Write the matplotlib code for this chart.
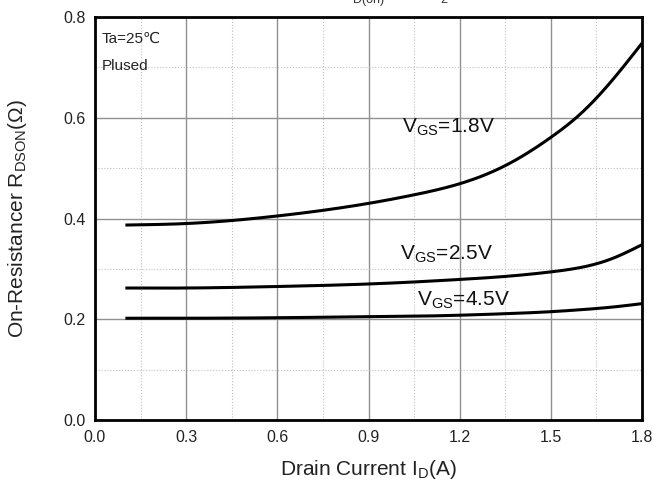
import matplotlib
matplotlib.use("Agg")
import matplotlib.pyplot as plt
import numpy as np
from matplotlib.ticker import MultipleLocator

plt.rcParams['font.family'] = ['Liberation Sans', 'DejaVu Sans']
plt.rcParams['mathtext.fontset'] = 'custom'
plt.rcParams['mathtext.rm'] = 'Liberation Sans'

# Data
current = [0.1, 0.3, 0.6, 0.9, 1.05, 1.2, 1.35, 1.5, 1.6, 1.7, 1.8]
r_vgs18 = [0.387, 0.390, 0.405, 0.430, 0.447, 0.469, 0.505, 0.561, 0.609, 0.673, 0.748]
r_vgs25 = [0.262, 0.262, 0.265, 0.270, 0.274, 0.279, 0.285, 0.294, 0.303, 0.320, 0.348]
r_vgs45 = [0.202, 0.202, 0.203, 0.205, 0.206, 0.208, 0.211, 0.215, 0.219, 0.224, 0.231]
xticks = [0.0, 0.3, 0.6, 0.9, 1.2, 1.5, 1.8]
yticks = [0.0, 0.2, 0.4, 0.6, 0.8]


def cspline(x, y, xs):
    """Natural cubic spline through the data points (drawing only)."""
    x = np.asarray(x, float); y = np.asarray(y, float)
    n = len(x); h = np.diff(x)
    A = np.zeros((n, n)); b = np.zeros(n)
    A[0, 0] = A[-1, -1] = 1
    for i in range(1, n - 1):
        A[i, i - 1] = h[i - 1]; A[i, i] = 2 * (h[i - 1] + h[i]); A[i, i + 1] = h[i]
        b[i] = 3 * ((y[i + 1] - y[i]) / h[i] - (y[i] - y[i - 1]) / h[i - 1])
    c = np.linalg.solve(A, b)
    bb = (y[1:] - y[:-1]) / h - h * (2 * c[:-1] + c[1:]) / 3
    d = (c[1:] - c[:-1]) / (3 * h)
    idx = np.clip(np.searchsorted(x, xs) - 1, 0, n - 2)
    t = xs - x[idx]
    return y[idx] + bb[idx] * t + c[idx] * t**2 + d[idx] * t**3


fig = plt.figure(figsize=(6.54, 4.86), dpi=100)
ax = fig.add_axes([95/654, 1 - 420/486, 547/654, 403/486])

xs = np.linspace(current[0], current[-1], 300)
for r in (r_vgs18, r_vgs25, r_vgs45):
    ax.plot(xs, cspline(current, r, xs), color='black', lw=2.2, solid_capstyle='butt')

ax.set_xlim(0, 1.8)
ax.set_ylim(0, 0.8)
ax.set_xticks(xticks)
ax.set_yticks(yticks)
ax.set_xticklabels([f"{t:.1f}" for t in xticks])
ax.set_yticklabels([f"{t:.1f}" for t in yticks])
ax.xaxis.set_minor_locator(MultipleLocator(0.15))
ax.yaxis.set_minor_locator(MultipleLocator(0.1))
ax.grid(which='major', color='#909090', lw=1.0)
ax.grid(which='minor', color='#c0c0c0', lw=0.8, ls=':')
ax.set_axisbelow(True)
ax.tick_params(which='both', length=0, labelsize=11.5, colors='#222222')
ax.tick_params(axis='y', pad=7)
ax.tick_params(axis='x', pad=7)
for s in ax.spines.values():
    s.set_linewidth(2.0)
    s.set_color('black')

ax.set_xlabel('Drain Current I$_{\\mathregular{D}}$(A)', fontsize=15, color='#222222', va='center')
ax.set_ylabel('On-Resistancer R$_{\\mathregular{DSON}}$($\\Omega$)', fontsize=15, color='#222222', va='center')
ax.xaxis.set_label_coords(0.5, -0.124)
ax.yaxis.set_label_coords(-0.141, 0.5)

ax.text(0.023, 0.748, 'Ta=25℃', fontsize=11, color='#222222', va='baseline')
ax.text(0.023, 0.695, 'Plused', fontsize=11, color='#222222', va='baseline')

ax.text(1.01, 0.570, 'V$_{\\mathregular{GS}}$=1.8V', fontsize=15, va='baseline', color='#111111')
ax.text(1.004, 0.318, 'V$_{\\mathregular{GS}}$=2.5V', fontsize=15, va='baseline', color='#111111')
ax.text(1.058, 0.228, 'V$_{\\mathregular{GS}}$=4.5V', fontsize=15, va='baseline', color='#111111')

# title text cropped at the top edge of the original image
fig.text(353/654, 1.0, 'D(on)', fontsize=9, color='#333333', va='center', ha='left')
fig.text(440/654, 1.0, '2', fontsize=9, color='#333333', va='center', ha='left')

fig.savefig('out.png', dpi=100)
